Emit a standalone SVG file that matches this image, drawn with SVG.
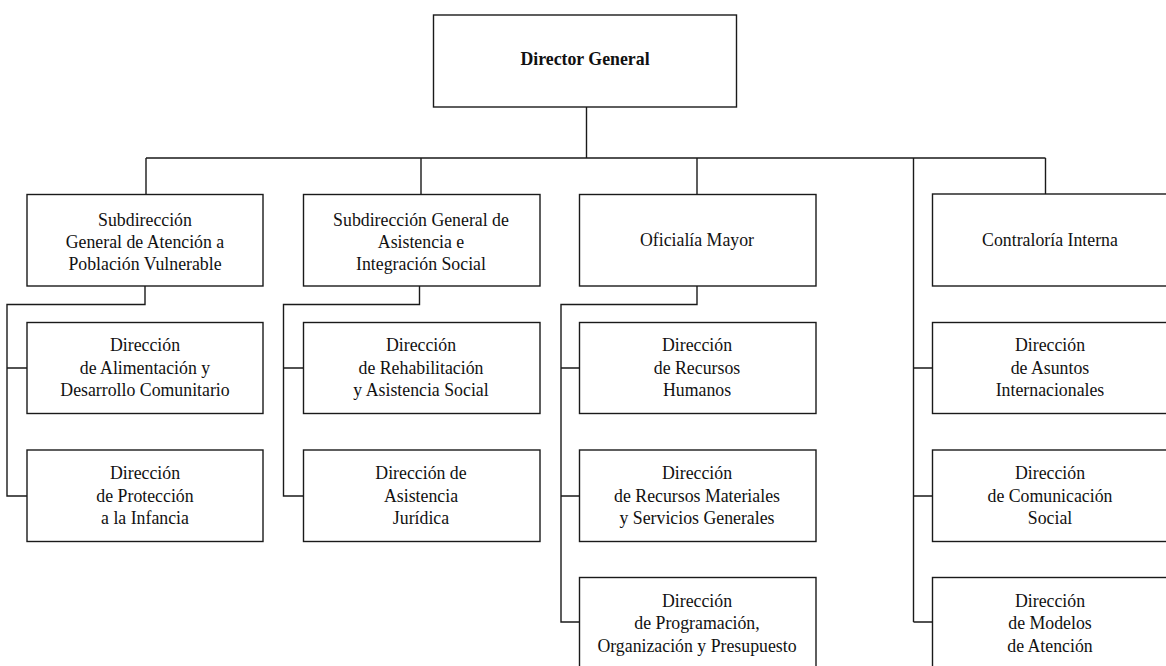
<svg xmlns="http://www.w3.org/2000/svg" width="1166" height="666" viewBox="0 0 1166 666">
<style>
.box{fill:#fff;stroke:#1a1a1a;stroke-width:1.4}
.ln{fill:none;stroke:#1a1a1a;stroke-width:1.4}
text{font-family:"Liberation Serif","Times New Roman",serif;font-size:17.8px;fill:#111;text-anchor:middle}
.b{font-weight:bold}
</style>
<rect width="1166" height="666" fill="#fff"/>
<g id="connectors">
<path class="ln" d="M586.5 107V158M146 158H1045.5M146 158V194M421 158V194M697 158V194M1045.5 158V194"/>
<path class="ln" d="M913.5 158V622M913.5 368H932.5M913.5 496H932.5M913.5 622H932.5"/>
<path class="ln" d="M145 286V304.5H7V496H27M7 368H27"/>
<path class="ln" d="M419.5 286V304.5H283.5V496H303.5M283.5 368H303.5"/>
<path class="ln" d="M697 286V304.5H561V622H579.5M561 368H579.5M561 496H579.5"/>
</g>
<g id="director-general"><rect class="box" x="433.5" y="15" width="303" height="92"/><text class="b" x="585" y="65">Director General</text></g>
<g id="sub-atencion"><rect class="box" x="27" y="194.5" width="236" height="91.5"/><text x="145" y="226">Subdirección</text><text x="145" y="248">General de Atención a</text><text x="145" y="270">Población Vulnerable</text></g>
<g id="sub-asistencia"><rect class="box" x="303.5" y="194.5" width="236.5" height="91.5"/><text x="421" y="226">Subdirección General de</text><text x="421" y="248">Asistencia e</text><text x="421" y="270">Integración Social</text></g>
<g id="oficialia"><rect class="box" x="579.5" y="194.5" width="236.5" height="91.5"/><text x="697" y="246">Oficialía Mayor</text></g>
<g id="contraloria"><rect class="box" x="932.5" y="194" width="240" height="92"/><text x="1050" y="246">Contraloría Interna</text></g>
<g id="dir-alimentacion"><rect class="box" x="27" y="322.5" width="236" height="91"/><text x="145" y="351">Dirección</text><text x="145" y="373.5">de Alimentación y</text><text x="145" y="396">Desarrollo Comunitario</text></g>
<g id="dir-proteccion"><rect class="box" x="27" y="450" width="236" height="91.5"/><text x="145" y="479">Dirección</text><text x="145" y="501.5">de Protección</text><text x="145" y="524">a la Infancia</text></g>
<g id="dir-rehabilitacion"><rect class="box" x="303.5" y="322.5" width="236.5" height="91"/><text x="421" y="351">Dirección</text><text x="421" y="373.5">de Rehabilitación</text><text x="421" y="396">y Asistencia Social</text></g>
<g id="dir-juridica"><rect class="box" x="303.5" y="450" width="236.5" height="91.5"/><text x="421" y="479">Dirección de</text><text x="421" y="501.5">Asistencia</text><text x="421" y="524">Jurídica</text></g>
<g id="dir-rh"><rect class="box" x="579.5" y="322.5" width="236.5" height="91"/><text x="697" y="351">Dirección</text><text x="697" y="373.5">de Recursos</text><text x="697" y="396">Humanos</text></g>
<g id="dir-rm"><rect class="box" x="579.5" y="450" width="236.5" height="91.5"/><text x="697" y="479">Dirección</text><text x="697" y="501.5">de Recursos Materiales</text><text x="697" y="524">y Servicios Generales</text></g>
<g id="dir-prog"><rect class="box" x="579.5" y="577.5" width="236.5" height="92"/><text x="697" y="606.5">Dirección</text><text x="697" y="629">de Programación,</text><text x="697" y="651.5">Organización y Presupuesto</text></g>
<g id="dir-asuntos"><rect class="box" x="932.5" y="322.5" width="240" height="91"/><text x="1050" y="351">Dirección</text><text x="1050" y="373.5">de Asuntos</text><text x="1050" y="396">Internacionales</text></g>
<g id="dir-comunicacion"><rect class="box" x="932.5" y="450" width="240" height="91.5"/><text x="1050" y="479">Dirección</text><text x="1050" y="501.5">de Comunicación</text><text x="1050" y="524">Social</text></g>
<g id="dir-modelos"><rect class="box" x="932.5" y="577.5" width="240" height="92"/><text x="1050" y="606.5">Dirección</text><text x="1050" y="629">de Modelos</text><text x="1050" y="651.5">de Atención</text></g>
</svg>
